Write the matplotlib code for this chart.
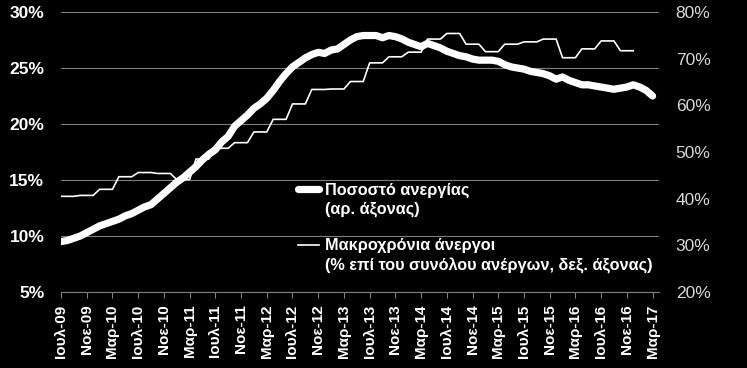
import matplotlib
matplotlib.use('Agg')
import matplotlib.pyplot as plt
from matplotlib.legend_handler import HandlerLine2D
from matplotlib.lines import Line2D
import numpy as np

# Monthly, Jul-09 .. Mar-17 : unemployment rate (% , left axis)
unemp = [9.5, 9.6, 9.8, 10.0, 10.3, 10.6,
         10.9, 11.1, 11.3, 11.5, 11.8, 12.0,
         12.3, 12.6, 12.8, 13.3, 13.8, 14.3,
         14.8, 15.2, 15.7, 16.2, 16.8, 17.3,
         17.7, 18.4, 18.9, 19.8, 20.3, 20.8,
         21.4, 21.8, 22.3, 23.0, 23.8, 24.5,
         25.1, 25.5, 25.9, 26.2, 26.4, 26.3,
         26.6, 26.7, 27.1, 27.5, 27.8, 27.9,
         27.9, 27.9, 27.7, 27.9, 27.8, 27.6,
         27.3, 27.1, 26.9, 27.2, 27.0, 26.8,
         26.5, 26.3, 26.1, 26.0, 25.8, 25.7,
         25.7, 25.7, 25.6, 25.3, 25.1, 25.0,
         24.9, 24.7, 24.6, 24.5, 24.3, 24.0,
         24.2, 23.9, 23.7, 23.5, 23.5, 23.4,
         23.3, 23.2, 23.1, 23.2, 23.3, 23.5,
         23.3, 23.0, 22.5]

# Monthly, Jul-09 .. Dec-16 : long-term unemployed (% of unemployed, right axis)
longterm = [40.5, 40.5, 40.5, 40.7, 40.7, 40.7,
            42.0, 42.0, 42.0, 44.7, 44.7, 44.7,
            45.6, 45.6, 45.6, 45.4, 45.4, 45.4,
            44.1, 44.1, 44.1, 48.5, 48.5, 48.5,
            50.8, 50.8, 50.8, 52.0, 52.0, 52.0,
            54.3, 54.3, 54.3, 57.0, 57.0, 57.0,
            60.3, 60.3, 60.3, 63.4, 63.4, 63.4,
            63.5, 63.5, 63.5, 65.1, 65.1, 65.1,
            69.1, 69.1, 69.1, 70.4, 70.4, 70.4,
            71.4, 71.4, 71.4, 74.2, 74.2, 74.2,
            75.4, 75.4, 75.4, 73.1, 73.1, 73.1,
            71.5, 71.5, 71.5, 73.1, 73.1, 73.1,
            73.6, 73.6, 73.6, 74.2, 74.2, 74.2,
            70.2, 70.2, 70.2, 72.1, 72.1, 72.1,
            73.8, 73.8, 73.8, 71.7, 71.7, 71.7]

tick_labels = ['Ιουλ-09', 'Νοε-09', 'Μαρ-10', 'Ιουλ-10', 'Νοε-10', 'Μαρ-11',
               'Ιουλ-11', 'Νοε-11', 'Μαρ-12', 'Ιουλ-12', 'Νοε-12', 'Μαρ-13',
               'Ιουλ-13', 'Νοε-13', 'Μαρ-14', 'Ιουλ-14', 'Νοε-14', 'Μαρ-15',
               'Ιουλ-15', 'Νοε-15', 'Μαρ-16', 'Ιουλ-16', 'Νοε-16', 'Μαρ-17']
left_ticks = [5, 10, 15, 20, 25, 30]
right_ticks = [20, 30, 40, 50, 60, 70, 80]

label1 = 'Ποσοστό ανεργίας\n(αρ. άξονας)'
label2 = 'Μακροχρόνια άνεργοι\n(% επί του συνόλου ανέργων, δεξ. άξονας)'

plt.rcParams['font.family'] = ['Liberation Sans', 'DejaVu Sans']

BG = 'black'
GRID = '#7f7f7f'

fig = plt.figure(figsize=(7.47, 3.68), dpi=100, facecolor=BG)
ax = fig.add_axes([61 / 747, 1 - 292 / 368, 598 / 747, 280 / 368])
ax.set_facecolor(BG)

x_u = np.arange(len(unemp))
x_l = np.arange(len(longterm))

ax.plot(x_u, unemp, color='white', lw=5.2, solid_capstyle='round',
        solid_joinstyle='round', zorder=3)
ax.set_ylim(5, 30)
ax.set_xlim(0, 93)
ax.set_yticks(left_ticks)
ax.set_yticklabels([f'{v}%' for v in left_ticks])
ax.yaxis.grid(True, color=GRID, lw=0.8)
ax.set_axisbelow(True)
ax.tick_params(axis='y', length=0, pad=12, labelcolor='white', labelsize=12.5)
for lab in ax.get_yticklabels():
    lab.set_fontweight('bold')

ax.set_xticks(x_u[::4])
ax.set_xticklabels(tick_labels, rotation=90, fontweight='bold',
                   fontsize=11, color='white')
ax.tick_params(axis='x', direction='out', length=4, color=GRID, width=0.8, pad=5)

for s in ['top', 'right', 'left']:
    ax.spines[s].set_visible(False)
ax.spines['bottom'].set_color(GRID)
ax.spines['bottom'].set_linewidth(0.8)

ax2 = ax.twinx()
ax2.plot(x_l, longterm, color='white', lw=1.2, zorder=4)
ax2.set_ylim(20, 80)
ax2.set_yticks(right_ticks)
ax2.set_yticklabels([f'{v}%' for v in right_ticks])
ax2.tick_params(axis='y', length=0, pad=12, labelcolor='#d9d9d9', labelsize=12.5)
for s in ['top', 'right', 'left', 'bottom']:
    ax2.spines[s].set_visible(False)


class UpHandler(HandlerLine2D):
    def create_artists(self, legend, orig_handle, xdescent, ydescent,
                       width, height, fontsize, trans):
        arts = super().create_artists(legend, orig_handle, xdescent, ydescent,
                                      width, height, fontsize, trans)
        for a in arts:
            a.set_ydata(np.asarray(a.get_ydata()) + 0.68 * fontsize)
        return arts


h1 = Line2D([], [], color='white', lw=5.2, solid_capstyle='round')
h2 = Line2D([], [], color='white', lw=1.2)
leg = ax2.legend([h1, h2], [label1, label2], loc='upper left',
                 bbox_to_anchor=(0.396, 0.392), frameon=False,
                 prop={'weight': 'bold', 'size': 11.7}, labelcolor='white',
                 handlelength=1.3, handletextpad=0.35, labelspacing=1.3,
                 borderpad=0, borderaxespad=0,
                 handler_map={Line2D: UpHandler()})
for t in leg.get_texts():
    t.set_linespacing(1.35)

fig.savefig('out.png', dpi=100, facecolor=BG)
